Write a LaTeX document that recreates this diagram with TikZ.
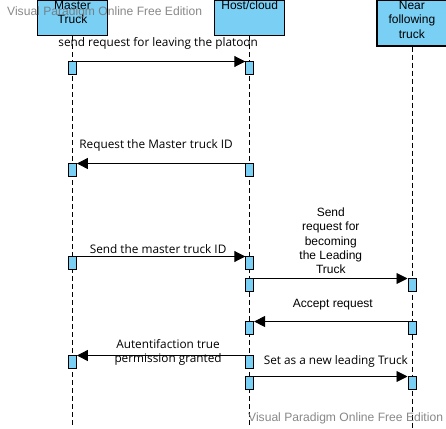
\documentclass[tikz,border=0pt]{standalone}
\usepackage{fontspec}
\setmainfont{Liberation Sans}
\newfontfamily\msgfont{Open Sans}
\usetikzlibrary{arrows.meta,positioning}
\definecolor{lblue}{RGB}{122,207,245}

\begin{document}
\begin{tikzpicture}[x=1pt,y=-1pt,>={Triangle[length=11pt,width=11pt]}]
        \tikzset{actor/.style= {draw, fill=lblue, line width=1.2pt, rectangle, minimum width=70pt, minimum height=35pt, anchor=north},
        actorlbl/.style= {align=center, inner sep=0pt, anchor=north, font=\fontsize{12}{14.5}\selectfont},
        life/.style={draw, line width=0.8pt, dash pattern=on 5pt off 3pt},
        bar/.style={draw, fill=lblue, line width=0.8pt, minimum width=8pt, minimum height=12.5pt, inner sep=0pt, anchor=north},
        msg/.style={draw, line width=0.9pt, ->},
        lbl/.style={font=\msgfont\fontsize{11.8}{14}\selectfont, align=center, inner sep=0pt},
        albl/.style={font=\fontsize{12}{14.3}\selectfont, align=center, inner sep=0pt},
        wmark/.style={text=black!55, opacity=0.85, font=\fontsize{12.1}{14}\selectfont, inner sep=0pt, anchor=west}
        }
        \useasboundingbox (0,0) rectangle (446,428);
        \node [actor] (master) at (72.5,0) {};
        \node [actor, right=106pt of master.north east, anchor=north west] (host) {};
        \node [actor, minimum height=45.5pt, right=91pt of host.north east, anchor=north west] (near) {};
        \node [actorlbl, below=1pt of master.north] (master_txt) {Master\\Truck};
        \node [actorlbl, below=1pt of host.north] (host_txt) {Host/cloud};
        \node [actorlbl, below=1pt of near.north] (near_txt) {Near\\following\\truck};
        \coordinate (master_end) at (master |- 0,428);
        \coordinate (host_end) at (host |- 0,428);
        \coordinate (near_end) at (near |- 0,428);
%%% lifelines
        \path[life] (master) edge (master_end)
                    (host) edge (host_end)
                    (near) edge (near_end)
                    ;
%%% activations
        \node [bar] (b1m) at (master |- 0,61) {};
        \node [bar] (b1h) at (host |- 0,61) {};
        \node [bar] (b2h) at (host |- 0,163) {};
        \node [bar] (b2m) at (master |- 0,163) {};
        \node [bar] (b3m) at (master |- 0,256) {};
        \node [bar] (b3h) at (host |- 0,256) {};
        \node [bar] (b4h) at (host |- 0,278) {};
        \node [bar] (b4n) at (near |- 0,278) {};
        \node [bar] (b5n) at (near |- 0,321) {};
        \node [bar] (b5h) at (host |- 0,321) {};
        \node [bar] (b6h) at (host |- 0,355) {};
        \node [bar] (b6m) at (master |- 0,355) {};
        \node [bar] (b7h) at (host |- 0,376) {};
        \node [bar] (b7n) at (near |- 0,376) {};
%%% messages
        \path[msg] ([yshift=-0.5pt]b1m.north east) -- node[lbl, yshift=18pt, xshift=-3pt] {send request for leaving the platoon} ([yshift=-0.5pt]b1h.north west);
        \path[msg] ([yshift=-0.5pt]b2h.north west) -- node[lbl, yshift=18pt, xshift=-5pt] {Request the Master truck ID} ([yshift=-0.5pt]b2m.north east);
        \path[msg] ([yshift=-0.5pt]b3m.north east) -- node[lbl, yshift=7pt, xshift=-3pt] {Send the master truck ID} ([yshift=-0.5pt]b3h.north west);
        \path[msg] ([yshift=-0.5pt]b4h.north east) -- node[albl, yshift=37.5pt] {Send\\request for\\becoming\\the Leading\\Truck} ([yshift=-0.5pt]b4n.north west);
        \path[msg] ([yshift=-0.5pt]b5n.north west) -- node[albl, yshift=17pt, xshift=2pt] {Accept request} ([yshift=-0.5pt]b5h.north east);
        \path[msg] ([yshift=-0.5pt]b6h.north west) -- node[lbl, yshift=3pt, xshift=7pt] {Autentifaction true\\permission granted} ([yshift=-0.5pt]b6m.north east);
        \path[msg] ([yshift=-0.5pt]b7h.north east) -- node[lbl, yshift=15pt, xshift=5pt] {Set as a new leading Truck} ([yshift=-0.5pt]b7n.north west);
%%% watermarks
        \node [wmark] (wm_top) at (7,12) {Visual Paradigm Online Free Edition};
        \node [wmark] (wm_bottom) at (248,418) {Visual Paradigm Online Free Edition};
\end{tikzpicture}
\end{document}
